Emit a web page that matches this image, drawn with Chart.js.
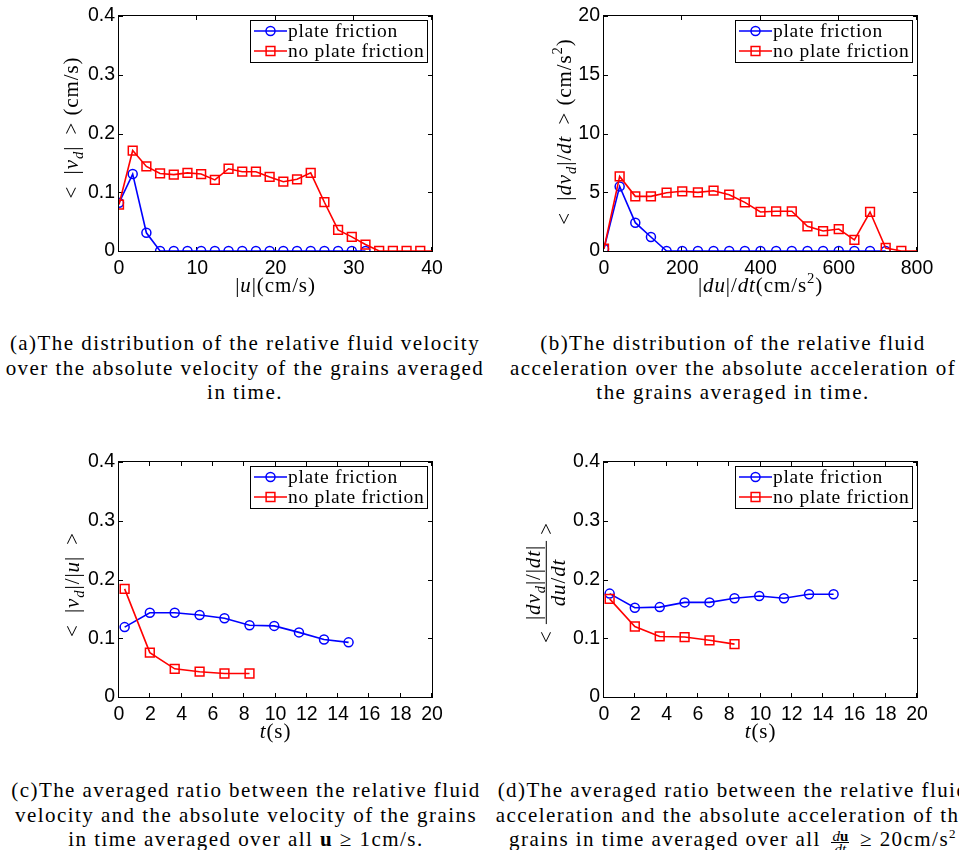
<!DOCTYPE html>
<html>
<head>
<meta charset="utf-8">
<script src="https://cdn.jsdelivr.net/npm/chart.js@4"></script>
<style>
  body { margin: 0; width: 959px; height: 850px; overflow: hidden; background: #fff; position: relative; }
  canvas { position: absolute; }
  .cap { position: absolute; width: 480px; text-align: center; white-space: nowrap; color: #000;
         font-family: "Liberation Serif", serif; font-size: 21px; line-height: 24.5px; letter-spacing: 1.45px; }
  .frac { display: inline-block; vertical-align: -0.5em; font-size: 15px; line-height: 12px; text-align: center; margin: 0 4px; letter-spacing: 0; }
  .frac > span { display: block; }
  .frac > span:first-child { border-bottom: 1px solid #000; padding: 0 1px; }
  i { font-style: italic; }
</style>
</head>
<body>
<canvas id="chartA" width="480" height="300" style="left:0;top:0"></canvas>
<canvas id="chartB" width="474" height="300" style="left:485px;top:0"></canvas>
<canvas id="chartC" width="480" height="300" style="left:0;top:446px"></canvas>
<canvas id="chartD" width="474" height="300" style="left:485px;top:446px"></canvas>

<div class="cap" style="left:5px;top:331px">(a)The distribution of the relative fluid velocity<br>over the absolute velocity of the grains averaged<br>in time.</div>
<div class="cap" style="left:493px;top:331px">(b)The distribution of the relative fluid<br>acceleration over the absolute acceleration of<br>the grains averaged in time.</div>
<div class="cap" style="left:6px;top:778px">(c)The averaged ratio between the relative fluid<br>velocity and the absolute velocity of the grains<br>in time averaged over all <b>u</b> &ge; 1cm/s.</div>
<div class="cap" style="left:493px;top:778px">(d)The averaged ratio between the relative fluid<br>acceleration and the absolute acceleration of the<br>grains in time averaged over all <span class="frac"><span><i>d</i><b>u</b></span><span><i>dt</i></span></span> &ge; 20cm/s<sup style="font-size:13px;line-height:0">2</sup></div>

<script>
const BLUE = '#0000ff';
const RED = '#ff0000';
const SERIF = '"Liberation Serif", "Times New Roman", serif';
const SANS = '"Liberation Sans", Arial, sans-serif';

// (a) velocity distribution
const velBins = [0, 1.75, 3.5, 5.25, 7, 8.75, 10.5, 12.25, 14, 15.75, 17.5, 19.25, 21, 22.75, 24.5, 26.25, 28, 29.75, 31.5, 33.25, 35, 36.75, 38.5, 40.25];
const vdFric = [0.082, 0.131, 0.031, 0, 0, 0, 0, 0, 0, 0, 0, 0, 0, 0, 0, 0, 0, 0, 0];
const vdNoFric = [0.079, 0.171, 0.144, 0.132, 0.130, 0.133, 0.131, 0.121, 0.140, 0.135, 0.135, 0.126, 0.118, 0.122, 0.133, 0.083, 0.036, 0.024, 0.011, 0, 0, 0, 0, 0];
const velTicks = [0, 10, 20, 30, 40];
const velTickLabels = ['0', '10', '20', '30', '40'];

// (b) acceleration distribution
const accBins = [0, 40, 80, 120, 160, 200, 240, 280, 320, 360, 400, 440, 480, 520, 560, 600, 640, 680, 720, 760, 800];
const accFric = [0.2, 5.5, 2.41, 1.19, 0, 0, 0, 0, 0, 0, 0, 0, 0, 0, 0, 0, 0, 0, 0];
const accNoFric = [0.2, 6.35, 4.65, 4.65, 4.96, 5.08, 4.99, 5.13, 4.79, 4.14, 3.32, 3.38, 3.38, 2.10, 1.70, 1.87, 0.94, 3.32, 0.26, 0, 0];
const accTicks = [0, 200, 400, 600, 800];
const accTickLabels = ['0', '200', '400', '600', '800'];
const accYTicks = [0, 5, 10, 15, 20];
const accYTickLabels = ['0', '5', '10', '15', '20'];

// (c) and (d) ratios over time
const timeBins = [0.36, 1.97, 3.56, 5.15, 6.74, 8.34, 9.92, 11.5, 13.1, 14.67];
const velRatioFric = [0.119, 0.1435, 0.1435, 0.1396, 0.134, 0.122, 0.121, 0.110, 0.098, 0.093];
const velRatioNoFric = [0.184, 0.0755, 0.048, 0.043, 0.040, 0.040];
const accRatioFric = [0.176, 0.152, 0.153, 0.161, 0.161, 0.168, 0.172, 0.168, 0.175, 0.175];
const accRatioNoFric = [0.167, 0.120, 0.103, 0.102, 0.0965, 0.090];
const timeTicks = [0, 2, 4, 6, 8, 10, 12, 14, 16, 18, 20];
const timeTickLabels = ['0', '2', '4', '6', '8', '10', '12', '14', '16', '18', '20'];
const ratioTicks = [0, 0.1, 0.2, 0.3, 0.4];
const ratioTickLabels = ['0', '0.1', '0.2', '0.3', '0.4'];

const legendLabels = ['plate friction', 'no plate friction'];
const MARK = { circle: 4.5, rect: 6.2 };

// rich text helpers for the math-ish axis titles
function segFont(s, size) {
    const sz = (s.sub || s.sup) ? size * 0.7 : size;
    return `${s.it ? 'italic ' : ''}${s.b ? 'bold ' : ''}${sz}px ${SERIF}`;
}
function richWidth(ctx, segs, size) {
    let w = 0;
    segs.forEach(s => {
        if (s.frac) { w += fracWidth(ctx, s.frac, size); return; }
        ctx.font = segFont(s, size);
        w += ctx.measureText(s.t).width;
    });
    return w;
}
function fracWidth(ctx, f, size) {
    return Math.max(richWidth(ctx, f[0], size), richWidth(ctx, f[1], size)) + 8;
}
function drawRich(ctx, segs, x, y, size) {
    segs.forEach(s => {
        if (s.frac) {
            const w = fracWidth(ctx, s.frac, size);
            const nw = richWidth(ctx, s.frac[0], size), dw = richWidth(ctx, s.frac[1], size);
            const axis = y - size * 0.32;
            drawRich(ctx, s.frac[0], x + (w - nw) / 2, axis - size * 0.32, size);
            drawRich(ctx, s.frac[1], x + (w - dw) / 2, axis + size * 0.9, size);
            ctx.fillRect(x, axis - 0.5, w, 1);
            x += w;
            return;
        }
        ctx.font = segFont(s, size);
        const dy = s.sub ? size * 0.25 : (s.sup ? -size * 0.42 : 0);
        ctx.fillText(s.t, x, y + dy);
        x += ctx.measureText(s.t).width;
    });
}

function drawLegend(chart) {
    const { ctx, chartArea: a } = chart;
    const sets = chart.data.datasets;
    ctx.save();
    ctx.font = `19.5px ${SERIF}`;
    ctx.letterSpacing = '0.7px';
    const tw = Math.max(...sets.map(d => ctx.measureText(d.label).width));
    const w = Math.round(38 + tw + 3), h = 42;
    const x0 = Math.round(a.right - 5 - w), y0 = Math.round(a.top + 4);
    ctx.fillStyle = '#fff';
    ctx.fillRect(x0, y0, w, h);
    ctx.strokeStyle = '#000';
    ctx.lineWidth = 1;
    ctx.strokeRect(x0 + 0.5, y0 + 0.5, w, h);
    sets.forEach((d, i) => {
        const cy = y0 + 11 + i * 20;
        ctx.strokeStyle = d.borderColor;
        ctx.lineWidth = d.borderWidth;
        ctx.beginPath();
        ctx.moveTo(x0 + 4, cy);
        ctx.lineTo(x0 + 37, cy);
        ctx.stroke();
        const mx = x0 + 20.5, r = MARK[d.pointStyle];
        ctx.beginPath();
        if (d.pointStyle === 'rect') {
            const s = r * Math.SQRT1_2;
            ctx.rect(mx - s, cy - s, 2 * s, 2 * s);
        } else {
            ctx.arc(mx, cy, r, 0, Math.PI * 2);
        }
        ctx.lineWidth = d.pointBorderWidth;
        ctx.stroke();
        ctx.fillStyle = '#000';
        ctx.textBaseline = 'middle';
        ctx.textAlign = 'left';
        ctx.fillText(d.label, x0 + 38, cy + 1);
    });
    ctx.restore();
}

// MATLAB-like box, inward ticks, legend and axis titles
function matlabAxes(cfg) {
    return {
        id: 'matlabAxes',
        beforeDatasetsDraw(chart) {
            const { ctx, chartArea: a, scales: { x, y } } = chart;
            ctx.save();
            ctx.strokeStyle = '#000';
            ctx.lineWidth = 1;
            ctx.strokeRect(a.left - 0.5, a.top - 0.5, a.right - a.left + 1, a.bottom - a.top + 1);
            ctx.beginPath();
            cfg.xTicks.forEach(v => {
                const p = Math.round(x.getPixelForValue(v)) - 0.5;
                ctx.moveTo(p, a.bottom); ctx.lineTo(p, a.bottom - 4);
                ctx.moveTo(p, a.top); ctx.lineTo(p, a.top + 4);
            });
            cfg.yTicks.forEach(v => {
                const p = Math.round(y.getPixelForValue(v)) + 0.5;
                ctx.moveTo(a.left, p); ctx.lineTo(a.left + 4, p);
                ctx.moveTo(a.right, p); ctx.lineTo(a.right - 4, p);
            });
            ctx.stroke();
            ctx.restore();
        },
        afterDatasetsDraw(chart) {
            drawLegend(chart);
        },
        afterDraw(chart) {
            const { ctx, chartArea: a } = chart;
            const size = 21;
            ctx.save();
            ctx.fillStyle = '#000';
            ctx.textAlign = 'left';
            ctx.textBaseline = 'alphabetic';
            ctx.letterSpacing = '0.9px';
            const xw = richWidth(ctx, cfg.xTitle, size);
            drawRich(ctx, cfg.xTitle, (a.left + a.right) / 2 - xw / 2, 292, size);
            const yw = richWidth(ctx, cfg.yTitle, size);
            ctx.translate(cfg.yTitleX, (a.top + a.bottom) / 2 + cfg.yTitleShift);
            ctx.rotate(-Math.PI / 2);
            drawRich(ctx, cfg.yTitle, -yw / 2, 0, size);
            ctx.restore();
        }
    };
}

function series(xs, ys, label, color, style, order, xMax) {
    return {
        label: label,
        data: ys.map((v, i) => ({ x: xs[i], y: v })),
        borderColor: color,
        borderWidth: 1.6,
        pointStyle: style,
        pointRadius: c => (c.parsed && c.parsed.x >= xMax) ? 0 : MARK[style],
        pointBorderColor: color,
        pointBackgroundColor: 'rgba(0,0,0,0)',
        pointBorderWidth: 1.5,
        tension: 0,
        order: order
    };
}

function makeChart(id, cfg) {
    const canvas = document.getElementById(id);
    const tickFont = { family: SANS, size: 19.5 };
    return new Chart(canvas, {
        type: 'line',
        data: {
            datasets: [
                series(cfg.x1, cfg.y1, legendLabels[0], BLUE, 'circle', 1, cfg.xMax),
                series(cfg.x2, cfg.y2, legendLabels[1], RED, 'rect', 0, cfg.xMax)
            ]
        },
        options: {
            responsive: false,
            animation: false,
            events: [],
            layout: { padding: { left: 0, top: 16, right: canvas.width - 432, bottom: 0 } },
            plugins: { legend: { display: false }, tooltip: { enabled: false } },
            scales: {
                x: {
                    type: 'linear',
                    min: 0,
                    max: cfg.xMax,
                    afterBuildTicks: s => { s.ticks = cfg.xTicks.map(v => ({ value: v })); },
                    afterFit: s => { s.height = 49; s.paddingLeft = 0; s.paddingRight = 0; },
                    grid: { display: false, drawTicks: false },
                    border: { display: false },
                    ticks: {
                        color: '#000', font: tickFont, padding: 6, maxRotation: 0, autoSkip: false,
                        callback: (v, i) => cfg.xLabels[i]
                    }
                },
                y: {
                    min: 0,
                    max: cfg.yMax,
                    afterBuildTicks: s => { s.ticks = cfg.yTicks.map(v => ({ value: v })); },
                    afterFit: s => { s.width = 119; s.paddingTop = 0; s.paddingBottom = 0; },
                    grid: { display: false, drawTicks: false },
                    border: { display: false },
                    ticks: {
                        color: '#000', font: tickFont, padding: 4, autoSkip: false,
                        callback: (v, i) => cfg.yLabels[i]
                    }
                }
            }
        },
        plugins: [matlabAxes(cfg)]
    });
}

const vdSub = [{ t: 'v', it: 1 }, { t: 'd', it: 1, sub: 1 }];
const dvdSub = [{ t: 'dv', it: 1 }, { t: 'd', it: 1, sub: 1 }];
const tTitle = [{ t: 't', it: 1 }, { t: '(s)' }];

makeChart('chartA', {
    x1: velBins, y1: vdFric, x2: velBins, y2: vdNoFric,
    xMax: 40, yMax: 0.4,
    xTicks: velTicks, xLabels: velTickLabels, yTicks: ratioTicks, yLabels: ratioTickLabels,
    xTitle: [{ t: '|' }, { t: 'u', it: 1 }, { t: '|(cm/s)' }],
    yTitle: [{ t: '<\u2009 |' }, ...vdSub, { t: '| \u2009> (cm/s)' }],
    yTitleX: 78, yTitleShift: -6
});

makeChart('chartB', {
    x1: accBins, y1: accFric, x2: accBins, y2: accNoFric,
    xMax: 800, yMax: 20,
    xTicks: accTicks, xLabels: accTickLabels, yTicks: accYTicks, yLabels: accYTickLabels,
    xTitle: [{ t: '|' }, { t: 'du', it: 1 }, { t: '|/' }, { t: 'dt', it: 1 }, { t: '(cm/s' }, { t: '2', sup: 1 }, { t: ')' }],
    yTitle: [{ t: '<\u2009 |' }, ...dvdSub, { t: '|/' }, { t: 'dt', it: 1 }, { t: ' \u2009> (cm/s' }, { t: '2', sup: 1 }, { t: ')' }],
    yTitleX: 86, yTitleShift: -2
});

makeChart('chartC', {
    x1: timeBins, y1: velRatioFric, x2: timeBins, y2: velRatioNoFric,
    xMax: 20, yMax: 0.4,
    xTicks: timeTicks, xLabels: timeTickLabels, yTicks: ratioTicks, yLabels: ratioTickLabels,
    xTitle: tTitle,
    yTitle: [{ t: '<\u2009 |' }, ...vdSub, { t: '|/|' }, { t: 'u', it: 1 }, { t: '| \u2009>' }],
    yTitleX: 79, yTitleShift: 5
});

makeChart('chartD', {
    x1: timeBins, y1: accRatioFric, x2: timeBins, y2: accRatioNoFric,
    xMax: 20, yMax: 0.4,
    xTicks: timeTicks, xLabels: timeTickLabels, yTicks: ratioTicks, yLabels: ratioTickLabels,
    xTitle: tTitle,
    yTitle: [{ t: '< ' }, { frac: [[{ t: '|' }, ...dvdSub, { t: '|/|' }, { t: 'dt', it: 1 }, { t: '|' }], [{ t: 'du', it: 1 }, { t: '/' }, { t: 'dt', it: 1 }]] }, { t: ' >' }],
    yTitleX: 68, yTitleShift: 3
});
</script>
</body>
</html>
